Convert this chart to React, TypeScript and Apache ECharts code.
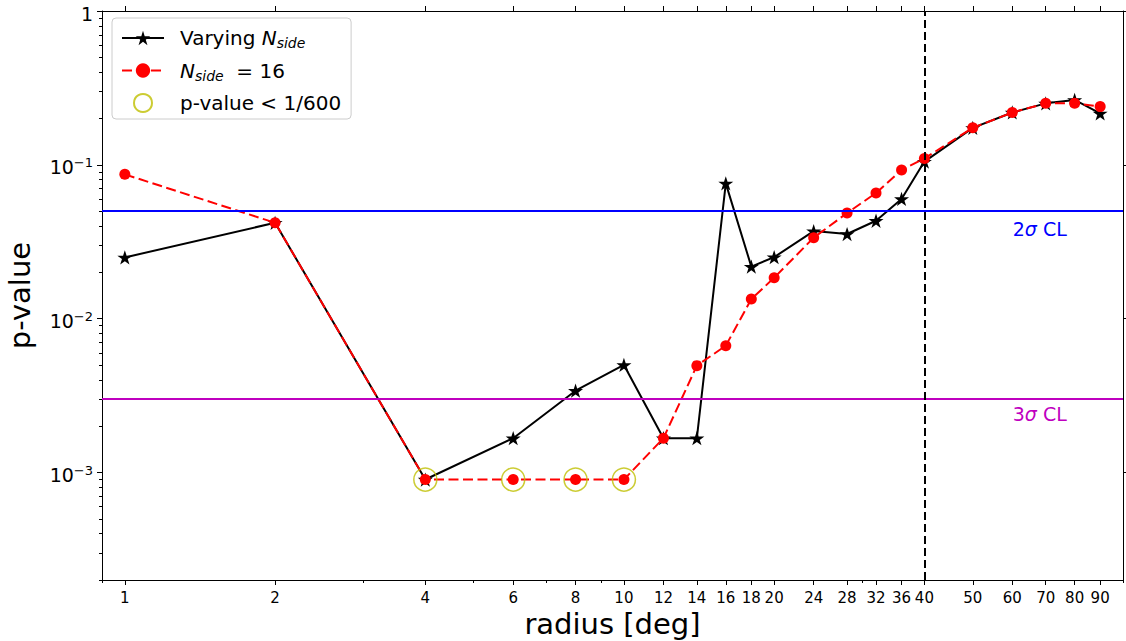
import React, { useEffect, useRef } from 'react';
import * as echarts from 'echarts';

// ---------------- data ----------------
const radius = [1, 2, 4, 6, 8, 10, 12, 14, 16, 18, 20, 24, 28, 32, 36, 40, 50, 60, 70, 80, 90];
const varyingNside = [
  0.025, 0.042, 0.0009, 0.00167, 0.0034, 0.005, 0.00167, 0.00167, 0.0758, 0.0218, 0.0251,
  0.0371, 0.0355, 0.0433, 0.06, 0.105, 0.174, 0.219, 0.251, 0.264, 0.216,
];
const nside16 = [
  0.0867, 0.042, 0.0009, 0.0009, 0.0009, 0.0009, 0.00167, 0.00495, 0.00667, 0.0134, 0.01845,
  0.0336, 0.0486, 0.0656, 0.0925, 0.11, 0.174, 0.219, 0.251, 0.251, 0.239,
];
const lowRadius = [4, 6, 8, 10];
const lowPValue = [0.0009, 0.0009, 0.0009, 0.0009];

const xMajorTicks = [1, 2, 4, 6, 8, 10, 12, 14, 16, 18, 20, 24, 28, 32, 36, 40, 50, 60, 70, 80, 90];
const xMinorTicks = [0.9, 3, 5, 7, 9, 30, 100];
const yMajorTicks = [0.001, 0.01, 0.1, 1];
const yMinorTicks = [
  0.0002, 0.0003, 0.0004, 0.0005, 0.0006, 0.0007, 0.0008, 0.0009,
  0.002, 0.003, 0.004, 0.005, 0.006, 0.007, 0.008, 0.009,
  0.02, 0.03, 0.04, 0.05, 0.06, 0.07, 0.08, 0.09,
  0.2, 0.3, 0.4, 0.5, 0.6, 0.7, 0.8, 0.9,
];
const xRange = [0.9, 100];
const yRange = [0.0002, 1];

const sigma2Level = 0.05;
const sigma3Level = 0.003;
const switchRadius = 40;
const sigma2LabelAt = [60, 0.038];
const sigma3LabelAt = [60, 0.0024];

const seriesNames = ['Varying N_side', 'N_side = 16', 'p-value < 1/600'];

// ---------------- style ----------------
const FONT = 'DejaVu Sans';
const starPath =
  'path://M0,-1L0.2245,-0.309L0.9511,-0.309L0.3633,0.118L0.5878,0.809L0,0.382L-0.5878,0.809L-0.3633,0.118L-0.9511,-0.309L-0.2245,-0.309Z';

const legendLabels: Record<string, string> = {
  'Varying N_side': '{r|Varying }{i|N}{sub|side}',
  'N_side = 16': '{i|N}{sub|side}{r|  = 16}',
  'p-value < 1/600': '{r|p-value < 1/600}',
};

const axisColor = '#000';

function yLabel(v: number): string {
  const e = Math.round(Math.log10(v));
  if (e === 0) return '{b|1}';
  return '{b|10}{s|\u2212' + Math.abs(e) + '}';
}

export default function App() {
  const ref = useRef<HTMLDivElement>(null);

  useEffect(() => {
    if (!ref.current) return;
    const chart = echarts.init(ref.current, undefined, { renderer: 'svg' });

    const baseX = { type: 'log', logBase: 10, min: xRange[0], max: xRange[1], splitLine: { show: false }, minorTick: { show: false }, minorSplitLine: { show: false } };
    const baseY = { type: 'log', logBase: 10, min: yRange[0], max: yRange[1], splitLine: { show: false }, minorTick: { show: false }, minorSplitLine: { show: false } };

    const option: any = {
      animation: false,
      textStyle: { fontFamily: FONT },
      grid: { left: 102, right: 3, top: 11, bottom: 61, containLabel: false, outerBoundsMode: 'none' },
      legend: {
        orient: 'vertical',
        left: 112,
        top: 18,
        padding: [10, 10, 6, 9],
        itemWidth: 42,
        itemHeight: 18,
        itemGap: 10.5,
        backgroundColor: 'rgba(255,255,255,0.8)',
        borderColor: '#cccccc',
        borderWidth: 1,
        borderRadius: 4,
        selectedMode: false,
        data: [
          { name: seriesNames[0] },
          { name: seriesNames[1] },
          { name: seriesNames[2], icon: 'circle' },
        ],
        formatter: (name: string) => legendLabels[name] || name,
        textStyle: {
          fontFamily: FONT,
          fontSize: 20,
          color: '#000',
          padding: [0, 0, 0, 11],
          rich: {
            r: { fontFamily: FONT, fontSize: 20, lineHeight: 24, color: '#000' },
            i: { fontFamily: FONT, fontSize: 20, lineHeight: 24, fontStyle: 'italic', color: '#000' },
            sub: { fontFamily: FONT, fontSize: 14, fontStyle: 'italic', verticalAlign: 'bottom', color: '#000' },
          },
        },
      },
      xAxis: [
        {
          ...baseX,
          position: 'bottom',
          axisLine: { show: true, onZero: false, lineStyle: { color: axisColor, width: 1 } },
          axisTick: { show: true, customValues: xMajorTicks, length: 5, lineStyle: { color: axisColor, width: 1 } },
          axisLabel: { show: true, customValues: xMajorTicks, fontFamily: FONT, fontSize: 15, color: '#000', margin: 10 },
          name: 'radius [deg]',
          nameLocation: 'middle',
          nameGap: 28,
          nameTextStyle: { fontFamily: FONT, fontSize: 29, color: '#000' },
        },
        {
          ...baseX,
          position: 'bottom',
          axisLine: { show: false },
          axisTick: { show: true, customValues: xMinorTicks, length: 3, lineStyle: { color: axisColor, width: 1 } },
          axisLabel: { show: false },
        },
        {
          ...baseX,
          position: 'top',
          axisLine: { show: true, onZero: false, lineStyle: { color: axisColor, width: 1 } },
          axisTick: { show: true, customValues: xMajorTicks, length: 5, lineStyle: { color: axisColor, width: 1 } },
          axisLabel: { show: false },
        },
      ],
      yAxis: [
        {
          ...baseY,
          position: 'left',
          axisLine: { show: true, onZero: false, lineStyle: { color: axisColor, width: 1 } },
          axisTick: { show: true, customValues: yMajorTicks, length: 5, lineStyle: { color: axisColor, width: 1 } },
          axisLabel: {
            show: true,
            customValues: yMajorTicks,
            margin: 9,
            padding: [5, 0, 0, 0],
            color: '#000',
            formatter: (v: number) => yLabel(v),
            rich: {
              b: { fontFamily: FONT, fontSize: 19, lineHeight: 22, color: '#000' },
              s: { fontFamily: FONT, fontSize: 13, verticalAlign: 'top', color: '#000' },
            },
          },
          name: 'p-value',
          nameLocation: 'middle',
          nameGap: 68,
          nameTextStyle: { fontFamily: FONT, fontSize: 29, color: '#000' },
        },
        {
          ...baseY,
          position: 'left',
          axisLine: { show: false },
          axisTick: { show: true, customValues: yMinorTicks, length: 3, lineStyle: { color: axisColor, width: 1 } },
          axisLabel: { show: false },
        },
        {
          ...baseY,
          position: 'right',
          axisLine: { show: true, onZero: false, lineStyle: { color: axisColor, width: 1 } },
          axisTick: { show: true, customValues: yMajorTicks, length: 5, lineStyle: { color: axisColor, width: 1 } },
          axisLabel: { show: false },
        },
      ],
      series: [
        {
          name: seriesNames[0],
          type: 'line',
          xAxisIndex: 0,
          yAxisIndex: 0,
          data: radius.map((r, i) => [r, varyingNside[i]]),
          symbol: starPath,
          symbolSize: 15,
          symbolKeepAspect: true,
          showAllSymbol: true,
          lineStyle: { color: '#000', width: 2 },
          itemStyle: { color: '#000' },
          z: 3,
          markLine: {
            silent: true,
            precision: 10,
            symbol: ['none', 'none'],
            label: { show: false },
            data: [
              { yAxis: sigma2Level, lineStyle: { color: '#0000ff', width: 2, type: 'solid' } },
              { yAxis: sigma3Level, lineStyle: { color: '#bf00bf', width: 2, type: 'solid' } },
              { xAxis: switchRadius, lineStyle: { color: '#000', width: 2, type: [8, 4] } },
            ],
          },
        },
        {
          name: seriesNames[1],
          type: 'line',
          xAxisIndex: 0,
          yAxisIndex: 0,
          data: radius.map((r, i) => [r, nside16[i]]),
          symbol: 'circle',
          symbolSize: 11,
          showAllSymbol: true,
          lineStyle: { color: '#ff0000', width: 2, type: [10, 4.5] },
          itemStyle: { color: '#ff0000' },
          z: 4,
        },
        {
          name: seriesNames[2],
          type: 'scatter',
          xAxisIndex: 0,
          yAxisIndex: 0,
          data: lowRadius.map((r, i) => [r, lowPValue[i]]),
          symbol: 'circle',
          symbolSize: 23,
          itemStyle: { color: 'rgba(0,0,0,0)', borderColor: '#bfbf00', borderWidth: 1.5 },
          z: 5,
          markPoint: {
            silent: true,
            symbol: 'circle',
            symbolSize: 1,
            itemStyle: { color: 'rgba(0,0,0,0)', borderWidth: 0 },
            label: {
              show: true,
              position: 'right',
              distance: 0,
              fontFamily: FONT,
              fontSize: 19,
              rich: {
                a: { fontFamily: FONT, fontSize: 19 },
                s: { fontFamily: FONT, fontSize: 19, fontStyle: 'italic' },
              },
            },
            data: [
              { coord: sigma2LabelAt, label: { formatter: '{a|2}{s|\u03c3}{a| CL}', color: '#0000ff' } },
              { coord: sigma3LabelAt, label: { formatter: '{a|3}{s|\u03c3}{a| CL}', color: '#bf00bf' } },
            ],
          },
        },
      ],
    };

    chart.setOption(option);
    return () => chart.dispose();
  }, []);

  return (
    <div
      ref={ref}
      style={{ position: 'fixed', left: 0, top: 0, width: 1126, height: 641, background: '#fff' }}
    />
  );
}
